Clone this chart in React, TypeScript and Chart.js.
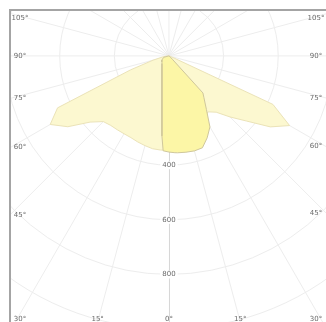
import React, { useEffect, useRef } from 'react';
import { Chart, registerables } from 'chart.js';

Chart.register(...registerables);

// Batwing curve (C90 / C270 plane), angles from nadir in degrees, intensity in cd
const wingAngles = [0, 5, 10, 15, 20, 25, 30, 35, 40, 45, 50, 55, 60, 65, 70, 75, 80, 85, 90];
const wingLeft = [345, 346, 345, 340, 335, 330, 329, 330, 332, 340, 377, 452, 502, 450, 150, 60, 25, 10, 0];
const wingRight = [345, 345, 335, 320, 300, 280, 260, 250, 269, 316, 371, 453, 510, 420, 10, 0, 0, 0, 0];

// Narrow curve (C0 / C180 plane)
const lobeAngles = [0, 3.5, 5, 10, 15, 20, 25, 30, 35, 40, 42.5, 45, 50, 60, 75, 90];
const lobeRight = [352, 355, 356, 358, 360, 358, 331, 300, 239, 199, 184, 20, 5, 0, 0, 0];
const lobeLeft = [352, 348, 294, 148, 99, 75, 62, 51, 45, 40, 38, 36, 34, 30, 20, 0];

// Grid / tick values
const ringValues = [200, 400, 600, 800, 1000, 1200];
const ringLabels = ['200', '400', '600', '800'];
const angleTicks = [0, 15, 30, 45, 60, 75, 90, 105];

function polarCurve(angles: number[], left: number[], right: number[]) {
  const pts: { x: number; y: number }[] = [];
  for (let i = angles.length - 1; i >= 0; i--) {
    const a = (angles[i] * Math.PI) / 180;
    pts.push({ x: -left[i] * Math.sin(a), y: -left[i] * Math.cos(a) });
  }
  for (let i = 1; i < angles.length; i++) {
    const a = (angles[i] * Math.PI) / 180;
    pts.push({ x: right[i] * Math.sin(a), y: -right[i] * Math.cos(a) });
  }
  pts.push({ ...pts[0] });
  return pts;
}

const gridPlugin = {
  id: 'polarGrid',
  beforeDatasetsDraw(chart: any) {
    const { ctx, chartArea: area, scales } = chart;
    const xs = scales.x, ys = scales.y;
    const cx = xs.getPixelForValue(0);
    const cy = ys.getPixelForValue(0);
    const unit = xs.getPixelForValue(1) - cx;
    ctx.save();
    ctx.beginPath();
    ctx.rect(area.left, area.top, area.right - area.left, area.bottom - area.top);
    ctx.clip();
    ctx.fillStyle = '#ffffff';
    ctx.fillRect(area.left, area.top, area.right - area.left, area.bottom - area.top);
    ctx.strokeStyle = '#ededed';
    ctx.lineWidth = 1;
    ringValues.forEach((v) => {
      ctx.beginPath();
      ctx.arc(cx, cy, v * unit, 0, Math.PI * 2);
      ctx.stroke();
    });
    const L = 1000;
    for (let a = 0; a < 360; a += 15) {
      if (a === 0) continue;
      const r = (a * Math.PI) / 180;
      ctx.beginPath();
      ctx.moveTo(cx, cy);
      ctx.lineTo(cx + L * Math.sin(r), cy + L * Math.cos(r));
      ctx.stroke();
    }
    ctx.strokeStyle = '#d6d6d6';
    ctx.beginPath();
    ctx.moveTo(cx + 0.5, cy);
    ctx.lineTo(cx + 0.5, area.bottom);
    ctx.stroke();
    ctx.font = '7px "DejaVu Sans", sans-serif';
    ctx.textAlign = 'center';
    ctx.textBaseline = 'middle';
    ringLabels.forEach((t) => {
      const y = ys.getPixelForValue(-Number(t));
      const w = ctx.measureText(t).width + 4;
      ctx.fillStyle = '#ffffff';
      ctx.fillRect(cx - w / 2, y - 4, w, 8);
      ctx.fillStyle = '#6a6a6a';
      ctx.fillText(t, cx, y);
    });
    ctx.restore();
  },
  afterDatasetsDraw(chart: any) {
    const { ctx, chartArea: area, scales } = chart;
    const cx = scales.x.getPixelForValue(0);
    const cy = scales.y.getPixelForValue(0);
    ctx.save();
    ctx.font = '7px "DejaVu Sans", sans-serif';
    ctx.textAlign = 'center';
    ctx.textBaseline = 'middle';
    ctx.fillStyle = '#6a6a6a';
    const put = (a: number, side: number) => {
      const r = (a * Math.PI) / 180;
      const dx = side * Math.sin(r);
      const dy = Math.cos(r);
      let t = Infinity;
      if (dx < 0) t = Math.min(t, (area.left - cx) / dx);
      if (dx > 0) t = Math.min(t, (area.right - cx) / dx);
      if (dy > 0) t = Math.min(t, (area.bottom - cy) / dy);
      if (dy < 0) t = Math.min(t, (area.top - cy) / dy);
      let x = cx + t * dx;
      let y = cy + t * dy;
      x = Math.min(Math.max(x, area.left + 10), area.right - 10);
      y = Math.min(Math.max(y, area.top + 8), area.bottom - 3);
      ctx.fillText(a + '°', x, y);
    };
    angleTicks.forEach((a) => {
      put(a, -1);
      if (a !== 0) put(a, 1);
    });
    ctx.strokeStyle = '#a4a4a4';
    ctx.lineWidth = 2;
    ctx.beginPath();
    ctx.moveTo(area.left, area.bottom);
    ctx.lineTo(area.left, area.top);
    ctx.lineTo(area.right, area.top);
    ctx.stroke();
    ctx.restore();
  },
};

export default function App() {
  const ref = useRef<HTMLCanvasElement | null>(null);
  useEffect(() => {
    if (!ref.current) return;
    const chart = new Chart(ref.current, {
      type: 'scatter',
      data: {
        datasets: [
          {
            label: 'C0-C180',
            data: polarCurve(lobeAngles, lobeLeft, lobeRight),
            showLine: true,
            fill: 'shape',
            backgroundColor: '#fcf6a6',
            borderColor: '#cfc79c',
            borderWidth: 1,
            pointRadius: 0,
            tension: 0,
          },
          {
            label: 'C90-C270',
            data: polarCurve(wingAngles, wingLeft, wingRight),
            showLine: true,
            fill: 'shape',
            backgroundColor: '#fcf8d0',
            borderColor: '#ebe3b8',
            borderWidth: 1,
            pointRadius: 0,
            tension: 0,
          },
        ],
      } as any,
      options: {
        animation: false,
        responsive: false,
        maintainAspectRatio: false,
        layout: { padding: { left: 10, top: 10, right: 0, bottom: 0 } },
        plugins: { legend: { display: false }, tooltip: { enabled: false } },
        scales: {
          x: { type: 'linear', display: false, min: -582, max: 575 },
          y: { type: 'linear', display: false, min: -974, max: 168 },
        },
      } as any,
      plugins: [gridPlugin],
    });
    return () => chart.destroy();
  }, []);
  return (
    <div style={{ position: 'fixed', left: 0, top: 0, width: 326, height: 322, background: '#fff' }}>
      <canvas ref={ref} width={326} height={322} style={{ width: 326, height: 322, display: 'block' }} />
    </div>
  );
}
